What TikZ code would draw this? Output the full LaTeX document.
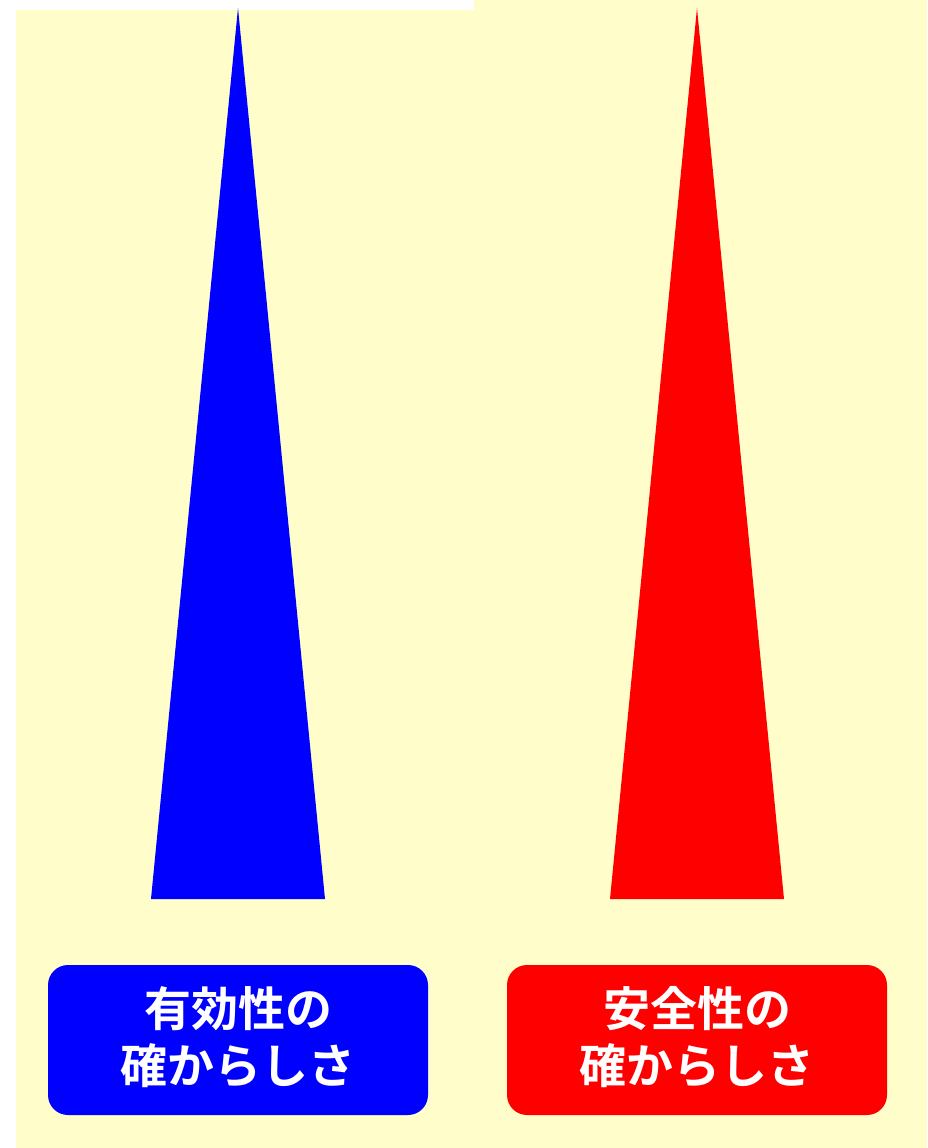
\documentclass[tikz,border=0pt]{standalone}
\usepackage{fontspec}
\newfontfamily\cjk{Noto Sans CJK JP Bold}
\definecolor{bgyellow}{HTML}{FFFDCA}
\definecolor{pureblue}{HTML}{0000FF}
\definecolor{purered}{HTML}{FF0000}
\tikzset{
  labelbox/.style={rounded corners=20pt, minimum width=380pt, minimum height=150pt,
    inner sep=0pt},
  labeltext/.style={text=white, align=center, inner sep=0pt,
    font=\cjk\fontsize{47pt}{57pt}\selectfont}
}
\begin{document}
\begin{tikzpicture}[x=1pt,y=-1pt]
\useasboundingbox (0,0) rectangle (927,1148);
% background
\fill[bgyellow] (16,10) rectangle (927,1148);
\fill[bgyellow] (474,0) rectangle (927,10);
% triangles
\fill[pureblue] (238,8) -- (325,899) -- (151,899) -- cycle;
\fill[purered] (697,8) -- (784,899) -- (610,899) -- cycle;
% boxes
\node[labelbox, fill=pureblue] (eff) at (238,1040) {};
\node[labelbox, fill=purered] (safe) at (697,1040) {};
\node[labeltext] (efftext) at ([yshift=3pt]eff.center) {有効性の\\確からしさ};
\node[labeltext] (safetext) at ([yshift=3pt]safe.center) {安全性の\\確からしさ};
\end{tikzpicture}
\end{document}
